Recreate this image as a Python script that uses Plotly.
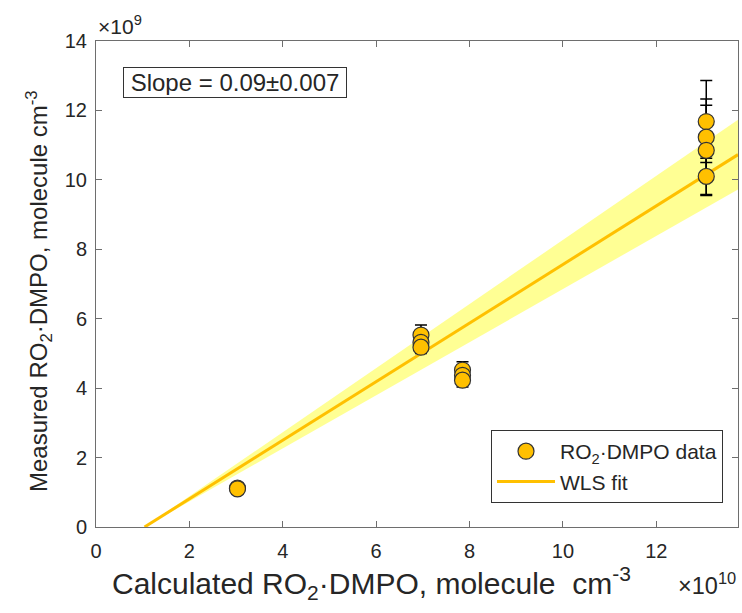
import plotly.graph_objects as go

# Data (x in units of 1e10, y in units of 1e9 molecule cm^-3)
calc_x = [3.03, 3.03, 6.96, 6.96, 6.96, 7.85, 7.85, 7.85, 13.07, 13.07, 13.07, 13.07]
meas_y = [1.12, 1.10, 5.53, 5.32, 5.18, 4.52, 4.37, 4.23, 11.68, 11.23, 10.85, 10.10]
meas_err = [0.10, 0.10, 0.29, 0.28, 0.18, 0.24, 0.22, 0.20, 1.18, 1.10, 1.30, 0.52]

# WLS fit (slope in scaled units), x-intercept, slope uncertainty
fit_slope = 0.844
fit_slope_err = 0.079
fit_x0 = 1.04
fit_x = [1.04, 13.75]

x_range = [0, 13.75]
y_range = [0, 14]
x_ticks = [0, 2, 4, 6, 8, 10, 12]
y_ticks = [0, 2, 4, 6, 8, 10, 12, 14]

fit_y = [fit_slope * (x - fit_x0) for x in fit_x]
up_y = [(fit_slope + fit_slope_err) * (x - fit_x0) for x in fit_x]
lo_y = [(fit_slope - fit_slope_err) * (x - fit_x0) for x in fit_x]

GOLD = "rgb(255,192,0)"
AX = "#6e6e6e"
TXT = "#262626"
FONT = "Liberation Sans, Arial, sans-serif"

L, R, T, B = 96, 4, 41, 86
PW, PH = 742 - L - R, 613 - T - B

fig = go.Figure()
fig.add_trace(go.Scatter(
    x=fit_x + fit_x[::-1], y=up_y + lo_y[::-1], fill="toself",
    fillcolor="rgba(255,255,0,0.42)", line=dict(width=0),
    mode="lines", showlegend=False, hoverinfo="skip"))
fig.add_trace(go.Scatter(
    x=fit_x, y=fit_y, mode="lines", name="WLS fit",
    line=dict(color=GOLD, width=3), legendrank=2))
fig.add_trace(go.Scatter(
    x=calc_x, y=meas_y, mode="markers", name="RO<sub>2</sub>·DMPO data",
    marker=dict(size=16, color=GOLD, line=dict(color="#333333", width=1.2)),
    error_y=dict(type="data", array=meas_err, color="black", thickness=1.5, width=6),
    legendrank=1))

axis_common = dict(
    showline=True, linecolor=AX, linewidth=1, mirror="ticks",
    ticks="inside", ticklen=6, tickcolor=AX, tickwidth=1,
    showgrid=False, zeroline=False,
    tickfont=dict(family=FONT, size=20, color=TXT))

fig.update_xaxes(range=x_range, tickvals=x_ticks, ticklabelstandoff=6, **axis_common)
fig.update_yaxes(range=y_range, tickvals=y_ticks, ticklabelstandoff=4, **axis_common)

fig.update_layout(
    width=742, height=613,
    margin=dict(l=L, r=R, t=T, b=B),
    plot_bgcolor="white", paper_bgcolor="white",
    font=dict(family=FONT, size=20, color=TXT),
    legend=dict(x=(723 - L) / PW, y=(613 - B - 503) / PH, xanchor="right", yanchor="bottom",
                bordercolor="#333333", borderwidth=1, bgcolor="white",
                font=dict(family=FONT, size=21, color=TXT),
                itemwidth=58, traceorder="normal"),
    annotations=[
        dict(text="Slope = 0.09±0.007", xref="paper", yref="paper",
             x=(123 - L) / PW, y=(613 - B - 67) / PH, xanchor="left", yanchor="top",
             width=218, height=25, align="center",
             showarrow=False, bordercolor="#333333", borderwidth=1, borderpad=2,
             bgcolor="white", font=dict(family=FONT, size=24, color=TXT)),
        dict(text="×10<sup>9</sup>", xref="paper", yref="paper",
             x=0.0, y=1.0, xanchor="left", yanchor="bottom", yshift=1,
             showarrow=False, font=dict(family=FONT, size=21, color=TXT)),
        dict(text="×10<sup>10</sup>", xref="paper", yref="paper",
             x=1.0, y=0, xanchor="right", yanchor="top", yshift=-40,
             showarrow=False, font=dict(family=FONT, size=23.5, color=TXT)),
        dict(text="Calculated RO<sub>2</sub>·DMPO, molecule  cm<sup>-3</sup>",
             xref="paper", yref="paper", x=(371 - L) / PW, y=0,
             xanchor="center", yanchor="top", yshift=-33,
             showarrow=False, font=dict(family=FONT, size=30, color=TXT)),
        dict(text="Measured RO<sub>2</sub>·DMPO, molecule cm<sup>-3</sup>",
             xref="paper", yref="paper", x=0, y=0.5, textangle=-90,
             xanchor="right", yanchor="middle", xshift=-38, yshift=-7,
             showarrow=False, font=dict(family=FONT, size=24, color=TXT)),
    ],
)

fig.write_html("out.html", post_script="document.body.style.margin='0px';",
               config={"displayModeBar": False})
